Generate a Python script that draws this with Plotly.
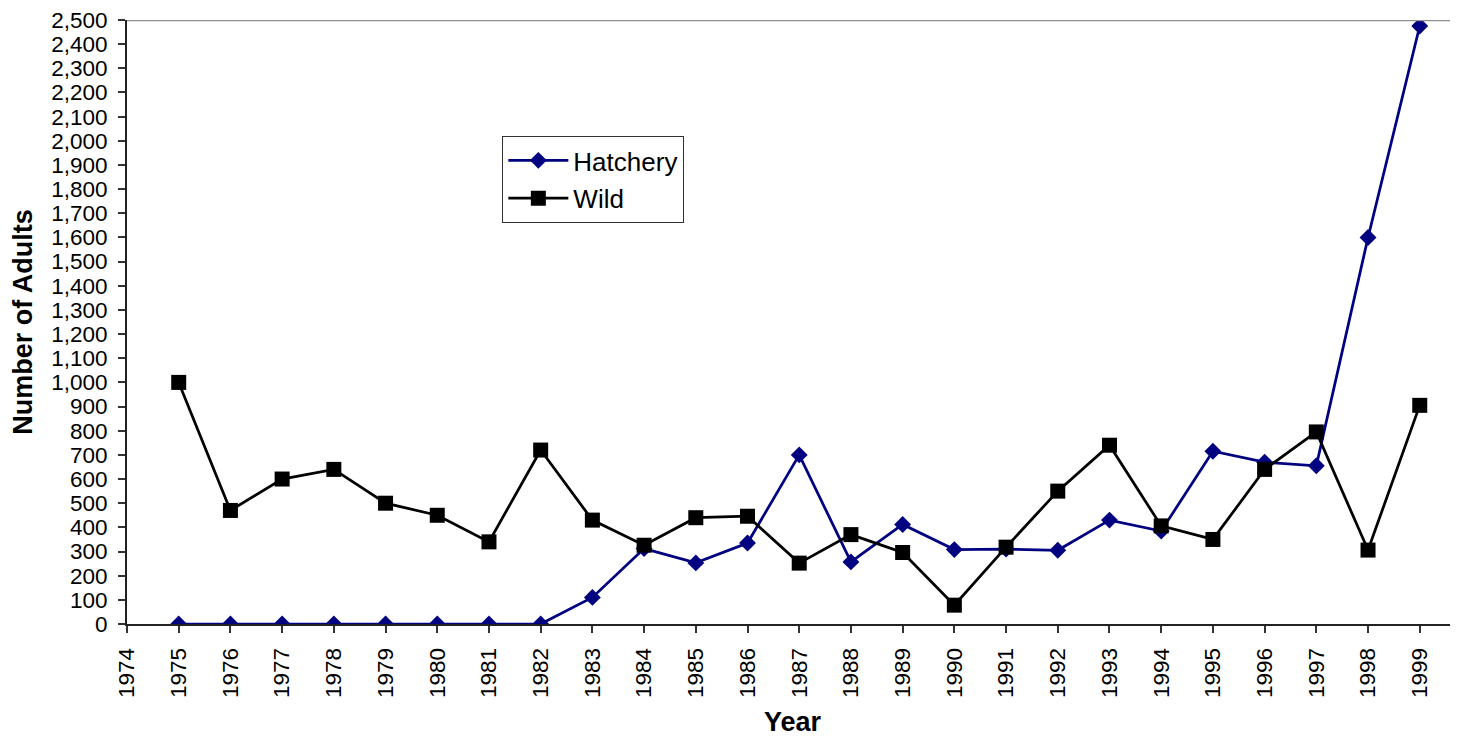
import plotly.graph_objects as go

years = list(range(1975, 2000))
hatchery = [0, 0, 0, 0, 0, 0, 0, 0, 110, 312, 253, 335, 700, 257, 412,
            308, 310, 305, 430, 385, 715, 670, 655, 1600, 2475]
wild = [1000, 470, 600, 640, 500, 450, 340, 720, 430, 326, 440, 446, 252, 370, 296,
        78, 318, 550, 740, 406, 350, 640, 795, 306, 905]

FONT = "Liberation Sans, Arial, sans-serif"

fig = go.Figure()
fig.add_trace(go.Scatter(
    x=years, y=hatchery, name="Hatchery", mode="lines+markers", legendgroup="h",
    line=dict(color="#000080", width=2.75),
    marker=dict(symbol="diamond", size=13, color="#000080"),
))
fig.add_trace(go.Scatter(
    x=years, y=wild, name="Wild", mode="lines+markers", legendgroup="w",
    line=dict(color="#000000", width=2.75),
    marker=dict(symbol="square", size=15, color="#000000"),
))

# line along the top of the plot area
fig.add_shape(type="line", xref="paper", yref="y", x0=0, x1=1, y0=2500, y1=2500,
              line=dict(color="#909090", width=2.5))

# page body adds an 8px margin, so the figure is 8px smaller than the window
fig.update_layout(
    width=1450, height=729,
    plot_bgcolor="white", paper_bgcolor="white",
    margin=dict(l=119, r=0, t=10, b=113),
    font=dict(family=FONT, color="black", size=22),
    showlegend=True,
    legend=dict(
        x=0.282, y=0.808, xanchor="left", yanchor="top",
        bordercolor="#333333", borderwidth=1, bgcolor="white",
        font=dict(size=26), itemwidth=60, tracegroupgap=1,
    ),
    xaxis=dict(
        range=[1974, 1999.74], tick0=1974, dtick=1, tickangle=-90,
        showgrid=False, zeroline=False, showline=True, linecolor="#222222", linewidth=2,
        ticks="outside", ticklen=7, tickcolor="#333333", tickwidth=1.5,
        tickfont=dict(size=22.5), ticklabelstandoff=6, ticklabeloverflow="allow",
        title=dict(text="<b>Year</b>", font=dict(size=27), standoff=16),
    ),
    yaxis=dict(
        range=[0, 2500], tick0=0, dtick=100, tickformat=",d",
        showgrid=False, zeroline=False, showline=True, linecolor="#222222", linewidth=2,
        ticks="outside", ticklen=7, tickcolor="#333333", tickwidth=1.5,
        tickfont=dict(size=22.5), ticklabelstandoff=6, ticklabeloverflow="allow",
        title=dict(text="<b>Number of Adults</b>", font=dict(size=27), standoff=14),
    ),
    # second axes only for the inner half of the cross ticks
    xaxis2=dict(
        overlaying="x", matches="x", range=[1974, 1999.74], tick0=1974, dtick=1,
        ticks="inside", ticklen=7, tickcolor="#333333", tickwidth=1.5,
        showticklabels=False, showgrid=False, zeroline=False, side="bottom",
    ),
    yaxis2=dict(
        overlaying="y", range=[0, 2500], tick0=0, dtick=100,
        ticks="inside", ticklen=7, tickcolor="#333333", tickwidth=1.5,
        showticklabels=False, showgrid=False, zeroline=False, side="left",
    ),
)

fig.write_html("out.html")
